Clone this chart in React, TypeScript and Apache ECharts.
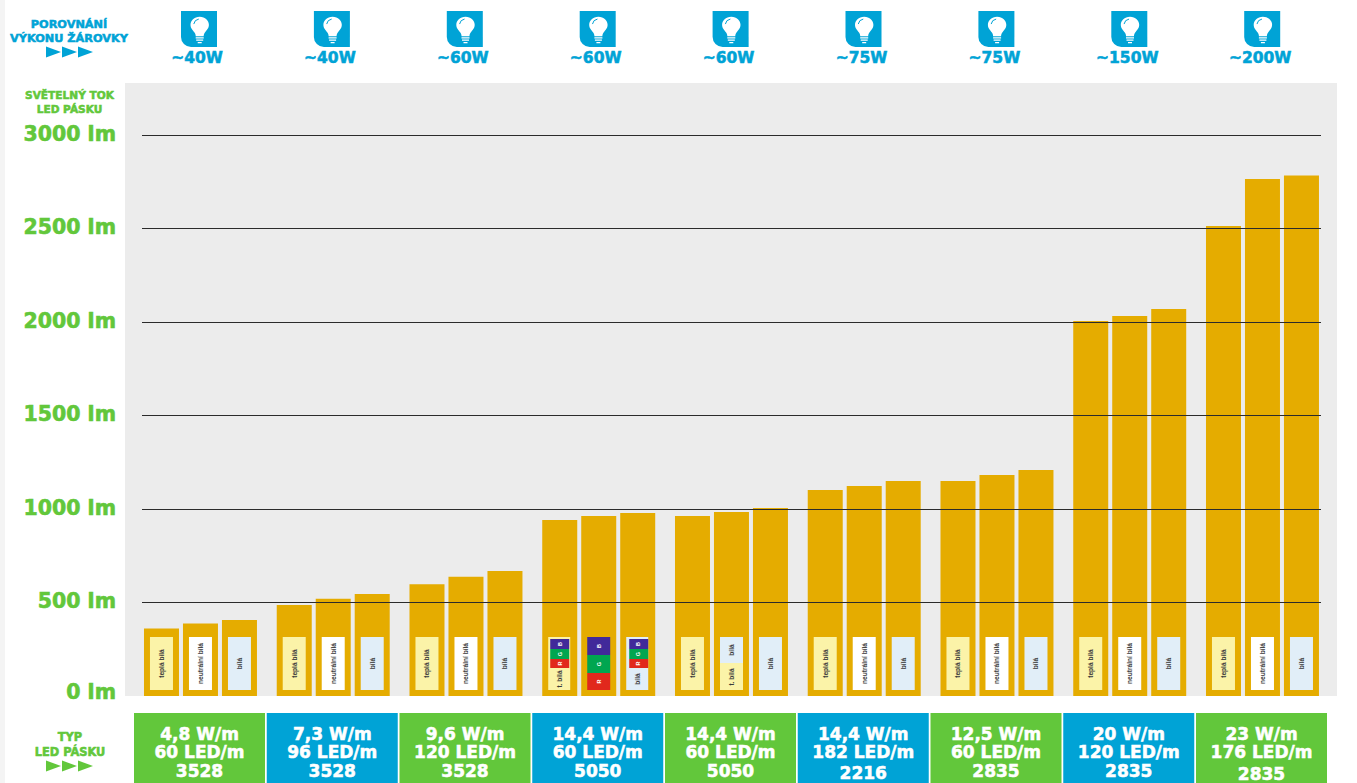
import React, { useEffect, useRef } from "react";
import * as echarts from "echarts";

const categories = ["4,8 W/m", "7,3 W/m", "9,6 W/m", "14,4 W/m (RGB)", "14,4 W/m", "14,4 W/m 182", "12,5 W/m", "20 W/m", "23 W/m"];
const warmWhite = [361, 487, 597, 941, 963, 1102, 1150, 2005, 2513];
const neutralWhite = [388, 520, 638, 963, 984, 1123, 1182, 2032, 2765];
const coolWhite = [406, 545, 668, 979, 1005, 1150, 1209, 2070, 2783];
const bulbLabels = ["~40W", "~40W", "~60W", "~60W", "~60W", "~75W", "~75W", "~150W", "~200W"];
const powerLabels = ["4,8 W/m", "7,3 W/m", "9,6 W/m", "14,4 W/m", "14,4 W/m", "14,4 W/m", "12,5 W/m", "20 W/m", "23 W/m"];
const densityLabels = ["60 LED/m", "96 LED/m", "120 LED/m", "60 LED/m", "60 LED/m", "182 LED/m", "60 LED/m", "120 LED/m", "176 LED/m"];
const chipLabels = ["3528", "3528", "3528", "5050", "5050", "2216", "2835", "2835", "2835"];
const yTicks = [0, 500, 1000, 1500, 2000, 2500, 3000];
// swatch kind in each bar of each group: warm, neutral, cool, warm+rgb, rgb, cool+rgb, cool+warm
const swatchKinds = [
  ["warm", "neutral", "cool"],
  ["warm", "neutral", "cool"],
  ["warm", "neutral", "cool"],
  ["warm+rgb", "rgb", "cool+rgb"],
  ["warm", "cool+warm", "cool"],
  ["warm", "neutral", "cool"],
  ["warm", "neutral", "cool"],
  ["warm", "neutral", "cool"],
  ["warm", "neutral", "cool"],
];

const BLUE = "#00a3d6";
const GREEN = "#62c73b";
const GOLD = "#e5ac00";
const HEAVY = "'DejaVu Sans'";
const WARM = "#fbf3a8";
const COOL = "#e1eef8";
const C_B = "#41299a";
const C_G = "#00a650";
const C_R = "#e1281c";

echarts.graphic.registerShape(
  "bulb",
  echarts.graphic.extendPath(
    "M18 4 C12.5 4 8.8 8.2 8.8 13 C8.8 17 11.2 19 12.8 21.6 C13.8 23.2 14 24.4 14 25.6 L22 25.6 C22 24.4 22.2 23.2 23.2 21.6 C24.8 19 27.2 17 27.2 13 C27.2 8.2 23.5 4 18 4 Z M14 26.8 H22 V28.2 H14 Z M14.5 29.4 H21.5 V30.8 H14.5 Z M16 32 H20 V33.4 H16 Z",
    {}
  ) as any
);

const label = (text: string, x: number, y: number, size: number, fill: string, stroke = 0.55) => ({
  type: "text",
  x,
  y,
  style: {
    text,
    fill,
    stroke: fill,
    lineWidth: stroke,
    fontFamily: HEAVY,
    fontWeight: 700,
    fontSize: size,
    align: "center",
    verticalAlign: "middle",
  },
});

const triangles = (y: number, fill: string) =>
  [46, 62, 78].map((x) => ({
    type: "polygon",
    shape: { points: [[x, y - 5.5], [x + 15, y], [x, y + 5.5]] },
    style: { fill },
  }));

function buildGraphics() {
  const els: any[] = [
    { type: "rect", shape: { x: 0, y: 0, width: 5, height: 783 }, style: { fill: "#f4f4f4" } },
    { type: "rect", shape: { x: 125, y: 83, width: 1212, height: 613 }, style: { fill: "#ececec" } },
    label("POROVNÁNÍ", 69, 24, 11.3, BLUE),
    label("VÝKONU ŽÁROVKY", 69, 38, 11.3, BLUE),
    ...triangles(52, BLUE),
    label("SVĚTELNÝ TOK", 69.5, 95, 10.6, GREEN),
    label("LED PÁSKU", 69.5, 108.5, 10.6, GREEN),
    label("TYP", 70, 737, 11.4, GREEN),
    label("LED PÁSKU", 70, 751.5, 11.4, GREEN),
    ...triangles(766, GREEN),
  ];
  bulbLabels.forEach((t, i) => {
    const ix = 181 + i * 132.9;
    els.push({
      type: "group",
      x: ix,
      y: 11,
      children: [
        { type: "rect", shape: { x: 0, y: 0, width: 36, height: 36, r: [0, 0, 0, 10] }, style: { fill: BLUE } },
        { type: "bulb", x: 0.7, y: 2.1, scaleY: 0.9, style: { fill: "#ffffff" } },
        { type: "arc", shape: { cx: 18.7, cy: 14, r: 6, startAngle: Math.PI * 1.05, endAngle: Math.PI * 1.45 }, style: { stroke: BLUE, lineWidth: 1, fill: "none" } },
      ],
    });
    els.push(label(t, ix + 16, 58, 15.5, BLUE));
  });
  powerLabels.forEach((p, i) => {
    const bx = 134 + i * 132.75;
    const cx = bx + 65.5;
    const lastY = chipLabels[i] === "2216" ? 773 : i === 8 ? 774 : 771;
    els.push({ type: "rect", shape: { x: bx, y: 713, width: 131, height: 70 }, style: { fill: i % 2 === 0 ? GREEN : BLUE } });
    els.push(label(p, cx, 734, 17, "#ffffff"));
    els.push(label(densityLabels[i], cx, 752, 17, "#ffffff"));
    els.push(label(chipLabels[i], cx, lastY, 17, "#ffffff"));
  });
  return els;
}

const swatchData: number[][] = [];
swatchKinds.forEach((g, i) => g.forEach((_, j) => swatchData.push([i, j])));

function renderSwatch(_params: any, api: any) {
  const i = api.value(0);
  const j = api.value(1);
  const kind = swatchKinds[i][j];
  const [center, base] = api.coord([i, 0]);
  const cx = center + (j - 1) * 39;
  const top = base - 59;
  const h = 53;
  const w = 23;
  const left = cx - w / 2;
  const kids: any[] = [];
  const rect = (x: number, y: number, width: number, height: number, fill: string) =>
    kids.push({ type: "rect", shape: { x, y, width, height }, style: { fill } });
  const text = (t: string, y: number, fill = "#3a3a3a", size = 6.6) =>
    kids.push({
      type: "text",
      x: cx,
      y,
      rotation: Math.PI / 2,
      style: { text: t, fill, fontFamily: "'Liberation Sans'", fontWeight: 700, fontSize: size, align: "center", verticalAlign: "middle" },
    });
  const rgb = (x: number, width: number, y: number, hs: number[]) => {
    const cols = [C_B, C_G, C_R];
    const names = ["B", "G", "R"];
    let cy = y;
    hs.forEach((hh, k) => {
      rect(x, cy, width, hh, cols[k]);
      text(names[k], cy + hh / 2, "#ffffff", 5.5);
      cy += hh;
    });
  };
  if (kind === "warm") {
    rect(left, top, w, h, WARM);
    text("teplá bílá", top + h / 2);
  } else if (kind === "neutral") {
    rect(left, top, w, h, "#ffffff");
    text("neutrální bílá", top + h / 2);
  } else if (kind === "cool") {
    rect(left, top, w, h, COOL);
    text("bílá", top + h / 2);
  } else if (kind === "warm+rgb") {
    rect(left, top, w - 1, h, WARM);
    rgb(left + 2, w - 4, top + 2, [10, 10, 9]);
    text("t. bílá", top + 42);
  } else if (kind === "cool+rgb") {
    rect(left, top, w - 1, h, COOL);
    rgb(left + 3, w - 4, top + 2, [10, 10, 9]);
    text("bílá", top + 42);
  } else if (kind === "rgb") {
    rgb(left, w, top, [18, 18, 17]);
  } else {
    rect(left, top, w, 26, COOL);
    rect(left, top + 26, w, 27, WARM);
    text("bílá", top + 13);
    text("t. bílá", top + 40);
  }
  return { type: "group", children: kids };
}

export default function App() {
  const ref = useRef<HTMLDivElement>(null);
  useEffect(() => {
    document.body.style.margin = "0";
    document.body.style.overflow = "hidden";
    const chart = echarts.init(ref.current!, null, { renderer: "svg" });
    const barBase = { type: "bar", barWidth: 35, barGap: "11.4%", xAxisIndex: 0, yAxisIndex: 0, itemStyle: { color: GOLD }, silent: true };
    const tickRich = (bottom: number) => ({
      color: GREEN,
      fontFamily: HEAVY,
      fontWeight: 700,
      fontSize: 20.5,
      textBorderColor: GREEN,
      textBorderWidth: 0.6,
      padding: [0, 0, bottom, 0],
    });
    chart.setOption({
      animation: false,
      backgroundColor: "#ffffff",
      textStyle: { fontFamily: HEAVY },
      graphic: { elements: buildGraphics() },
      grid: [
        { left: 134.1, top: 135, width: 1194.75, height: 561 },
        { left: 142, top: 135, width: 1179, height: 561 },
      ],
      xAxis: [
        { type: "category", gridIndex: 0, data: categories, show: false },
        { type: "value", gridIndex: 1, min: 0, max: 1, show: false },
      ],
      yAxis: [
        { type: "value", gridIndex: 0, min: 0, max: 3000, interval: 500, show: false },
        {
          type: "value",
          gridIndex: 1,
          min: yTicks[0],
          max: yTicks[yTicks.length - 1],
          interval: 500,
          z: 4,
          axisLine: { show: false },
          axisTick: { show: false },
          splitLine: {
            show: true,
            showMinLine: false,
            lineStyle: { color: "#2b2b2b", width: 1 },
          },
          axisLabel: {
            margin: 26,
            color: GREEN,
            fontFamily: HEAVY,
            fontWeight: 700,
            fontSize: 20.5,
            formatter: (v: number) => (v === 0 ? `{z|${v} lm}` : `{a|${v} lm}`),
            rich: { a: tickRich(3), z: tickRich(8) },
          },
        },
      ],
      series: [
        { ...barBase, name: "teplá bílá", data: warmWhite },
        { ...barBase, name: "neutrální bílá", data: neutralWhite },
        { ...barBase, name: "bílá", data: coolWhite },
        {
          type: "custom",
          xAxisIndex: 0,
          yAxisIndex: 0,
          z: 6,
          silent: true,
          clip: false,
          encode: { x: 0, y: 1 },
          data: swatchData,
          renderItem: renderSwatch,
        },
      ],
    });
    return () => chart.dispose();
  }, []);
  return <div ref={ref} style={{ position: "absolute", left: 0, top: 0, width: 1357, height: 783 }} />;
}
